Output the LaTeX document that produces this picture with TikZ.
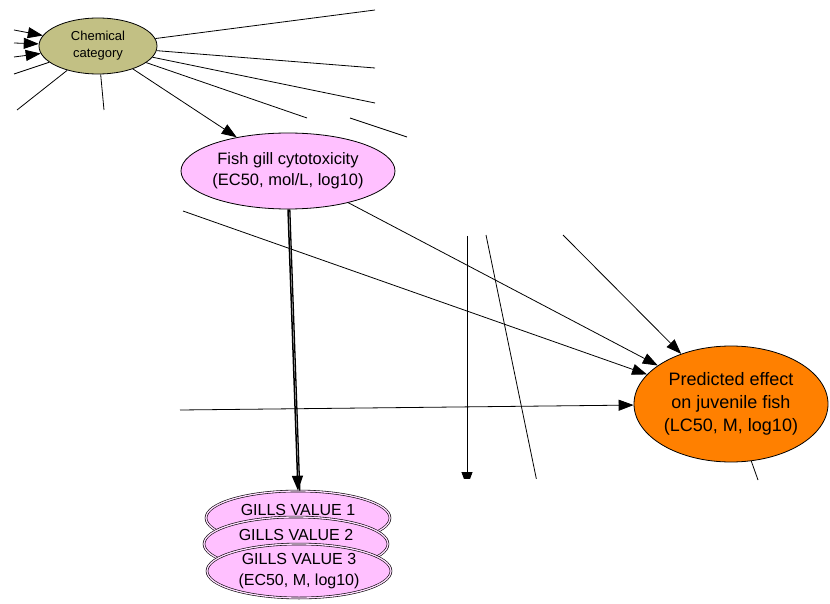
\documentclass[tikz,border=0pt]{standalone}
\usepackage{fontspec}
\setmainfont{Liberation Sans}
\usetikzlibrary{arrows.meta,shapes.geometric}
\definecolor{chemfill}{RGB}{194,192,132}
\definecolor{gillpink}{RGB}{255,192,255}
\definecolor{predorange}{RGB}{255,128,0}
\begin{document}
\begin{tikzpicture}[x=1pt,y=-1pt,
  link/.style={line width=0.8pt,draw=black},
  arr/.style={link,-{Triangle[length=15pt,width=11pt]}},
  bnode/.style={ellipse,draw=black,line width=0.8pt,inner sep=0pt,align=center,text=black},
  gill/.style={ellipse,draw=black,line width=0.6pt,double=white!45!gillpink,double distance=1.3pt,
    fill=gillpink,inner sep=0pt,minimum width=184pt,minimum height=54pt},
  gtext/.style={inner sep=0pt,font=\fontsize{16}{21}\selectfont,align=center}
]
\useasboundingbox (0,0) rectangle (830,604);

% free ends of connectors leading out of view
\coordinate (inA) at (14,30);
\coordinate (inB) at (14,43);
\coordinate (inC) at (14,57);
\coordinate (outL1) at (14,74);
\coordinate (outL2) at (17,110);
\coordinate (outD) at (104,110);
\coordinate (outR1) at (375,10);
\coordinate (outR2) at (375,68);
\coordinate (outR3) at (375,103);
\coordinate (outR4) at (307,118);
\coordinate (segA) at (350,118);
\coordinate (segB) at (407,137);
\coordinate (srcW) at (183,211);
\coordinate (srcH) at (180,410);
\coordinate (srcN) at (563,235);
\coordinate (vTop) at (467,236);
\coordinate (vBot) at (467,487);
\coordinate (sTop) at (486,235);
\coordinate (sBot) at (537,482);
\coordinate (outP) at (758,480);

% nodes
\node[bnode,fill=chemfill,minimum width=118pt,minimum height=56pt,
  font=\fontsize{13}{17}\selectfont] (chem) at (98,46) {Chemical\\category};
\node[bnode,fill=gillpink,minimum width=188pt,minimum height=76pt,
  font=\fontsize{16.5}{21}\selectfont] (fish) at (288,171) {Fish gill cytotoxicity\\(EC50, mol/L, log10)};
\node[bnode,fill=predorange,minimum width=194pt,minimum height=116pt,
  font=\fontsize{18}{23}\selectfont] (pred) at (731,404) {Predicted effect\\on juvenile fish\\(LC50, M, log10)};

% connectors around the chemical category
\draw[arr] (inA) -- (chem);
\draw[arr] (inB) -- (chem);
\draw[arr] (inC) -- (chem);
\draw[link] (chem) -- (outL1);
\draw[link] (chem) -- (outL2);
\draw[link] (chem) -- (outD);
\draw[link] (chem) -- (outR1);
\draw[link] (chem) -- (outR2);
\draw[link] (chem) -- (outR3);
\draw[link] (chem) -- (outR4);
\draw[link] (segA) -- (segB);
\draw[arr] (chem) -- (fish);

% connectors into the predicted effect
\draw[arr] (fish) -- (pred);
\draw[arr] (srcW) -- (pred);
\draw[arr] (srcN) -- (pred);
\draw[arr] (srcH) -- (pred);
\draw[link] (pred) -- (outP);
\begin{scope}
  \clip (440,220) rectangle (560,478);
  \draw[arr] (vTop) -- (vBot);
  \draw[link] (sTop) -- (sBot);
\end{scope}

% stacked gill values
\node[gill] (g1) at (298,518) {};
\node[gtext] (g1t) at (298,510) {GILLS VALUE 1};
\node[gill] (g2) at (296,544) {};
\node[gtext] (g2t) at (296,535) {GILLS VALUE 2};
\node[gill] (g3) at (299,571) {};
\node[gtext] (g3t) at (299,571) {GILLS VALUE 3\\(EC50, M, log10)};

% heavy link from the cytotoxicity node to the gill values
\draw[arr,line width=1.5pt] (fish.south) -- (g1.north);
\draw[link,line width=1.3pt,transform canvas={xshift=1.8pt}] (fish.south) -- (g1.north);
\end{tikzpicture}
\end{document}
